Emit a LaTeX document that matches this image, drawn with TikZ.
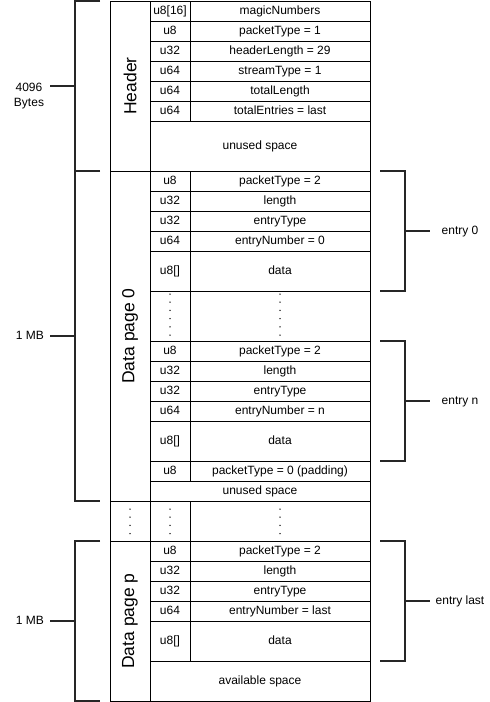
\documentclass[tikz,border=0pt]{standalone}
\usepackage{fontspec}
\setmainfont{Liberation Sans}
\usepackage{tikz}
\usetikzlibrary{positioning,calc}

\tikzset{
    txt/.style={font=\fontsize{12}{14.5}\selectfont, inner sep=1pt, text height=0.72em, text depth=0pt},
    pagelbl/.style={font=\fontsize{17.5}{20}\selectfont, rotate=90, inner sep=1pt},
    brace/.style={line width=1.5pt, black!85},
    dots/.style={line width=1.5pt, line cap=round, dash pattern=on 0pt off 8.2pt},
    grid/.style={line width=0.8pt}
}

\begin{document}
\begin{tikzpicture}[x=1pt,y=-1pt]
        \useasboundingbox (0,0) rectangle (490,702);

        % Header block (4096 Bytes)
        \draw[grid] (110,1) rectangle (370,171);
        \draw[grid] (150,1) -- (150,171);
        \draw[grid] (190,1) -- (190,121);
        \draw[grid] (150,21) -- (370,21) (150,41) -- (370,41) (150,61) -- (370,61)
                    (150,81) -- (370,81) (150,101) -- (370,101) (150,121) -- (370,121);
        \node[pagelbl] (hdr) at (130,86) {Header};
        \node[txt] (hdr-t1) at (170,11) {u8[16]};
        \node[txt] (hdr-f1) at (280,11) {magicNumbers};
        \node[txt] (hdr-t2) at (170,31) {u8};
        \node[txt] (hdr-f2) at (280,31) {packetType = 1};
        \node[txt] (hdr-t3) at (170,51) {u32};
        \node[txt] (hdr-f3) at (280,51) {headerLength = 29};
        \node[txt] (hdr-t4) at (170,71) {u64};
        \node[txt] (hdr-f4) at (280,71) {streamType = 1};
        \node[txt] (hdr-t5) at (170,91) {u64};
        \node[txt] (hdr-f5) at (280,91) {totalLength};
        \node[txt] (hdr-t6) at (170,111) {u64};
        \node[txt] (hdr-f6) at (280,111) {totalEntries = last};
        \node[txt] (hdr-free) at (260,146) {unused space};

        % Data page 0 (1 MB)
        \draw[grid] (110,171) rectangle (370,501);
        \draw[grid] (150,171) -- (150,501);
        \draw[grid] (190,171) -- (190,481);
        \draw[grid] (150,191) -- (370,191) (150,211) -- (370,211) (150,231) -- (370,231)
                    (150,251) -- (370,251) (150,291) -- (370,291) (150,341) -- (370,341)
                    (150,361) -- (370,361) (150,381) -- (370,381) (150,401) -- (370,401)
                    (150,421) -- (370,421) (150,461) -- (370,461) (150,481) -- (370,481);
        \node[pagelbl] (pg0) at (130,336) {Data page 0};
        % entry 0
        \node[txt] (e0-t1) at (170,181) {u8};
        \node[txt] (e0-f1) at (280,181) {packetType = 2};
        \node[txt] (e0-t2) at (170,201) {u32};
        \node[txt] (e0-f2) at (280,201) {length};
        \node[txt] (e0-t3) at (170,221) {u32};
        \node[txt] (e0-f3) at (280,221) {entryType};
        \node[txt] (e0-t4) at (170,241) {u64};
        \node[txt] (e0-f4) at (280,241) {entryNumber = 0};
        \node[txt] (e0-t5) at (170,271) {u8[]};
        \node[txt] (e0-f5) at (280,271) {data};
        % skipped entries
        \draw[dots] (170,294) -- (170,341);
        \draw[dots] (280,294) -- (280,341);
        % entry n
        \node[txt] (en-t1) at (170,351) {u8};
        \node[txt] (en-f1) at (280,351) {packetType = 2};
        \node[txt] (en-t2) at (170,371) {u32};
        \node[txt] (en-f2) at (280,371) {length};
        \node[txt] (en-t3) at (170,391) {u32};
        \node[txt] (en-f3) at (280,391) {entryType};
        \node[txt] (en-t4) at (170,411) {u64};
        \node[txt] (en-f4) at (280,411) {entryNumber = n};
        \node[txt] (en-t5) at (170,441) {u8[]};
        \node[txt] (en-f5) at (280,441) {data};
        \node[txt] (pad-t) at (170,471) {u8};
        \node[txt] (pad-f) at (280,471) {packetType = 0 (padding)};
        \node[txt] (pg0-free) at (260,491) {unused space};

        % Skipped pages
        \draw[grid] (110,501) rectangle (370,541);
        \draw[grid] (150,501) -- (150,541);
        \draw[grid] (190,501) -- (190,541);
        \draw[dots] (130,509) -- (130,541);
        \draw[dots] (170,509) -- (170,541);
        \draw[dots] (280,509) -- (280,541);

        % Data page p (1 MB)
        \draw[grid] (110,541) rectangle (370,701);
        \draw[grid] (150,541) -- (150,701);
        \draw[grid] (190,541) -- (190,661);
        \draw[grid] (150,561) -- (370,561) (150,581) -- (370,581) (150,601) -- (370,601)
                    (150,621) -- (370,621) (150,661) -- (370,661);
        \node[pagelbl] (pgp) at (130,621) {Data page p};
        \node[txt] (el-t1) at (170,551) {u8};
        \node[txt] (el-f1) at (280,551) {packetType = 2};
        \node[txt] (el-t2) at (170,571) {u32};
        \node[txt] (el-f2) at (280,571) {length};
        \node[txt] (el-t3) at (170,591) {u32};
        \node[txt] (el-f3) at (280,591) {entryType};
        \node[txt] (el-t4) at (170,611) {u64};
        \node[txt] (el-f4) at (280,611) {entryNumber = last};
        \node[txt] (el-t5) at (170,641) {u8[]};
        \node[txt] (el-f5) at (280,641) {data};
        \node[txt] (pgp-free) at (260,681) {available space};

        % Left brackets (sizes)
        \draw[brace] (100,1) -- (75,1) -- (75,171) -- (100,171);
        \draw[brace] (75,86) -- (50,86);
        \node[txt, align=center, text height=, text depth=] (sz-hdr) at (29,96) {4096\\Bytes};
        \draw[brace] (100,171) -- (75,171) -- (75,501) -- (100,501);
        \draw[brace] (75,336) -- (50,336);
        \node[txt] (sz-pg0) at (30,336) {1 MB};
        \draw[brace] (100,541) -- (75,541) -- (75,701) -- (100,701);
        \draw[brace] (75,621) -- (50,621);
        \node[txt] (sz-pgp) at (30,621) {1 MB};

        % Right brackets (entries)
        \draw[brace] (380,171) -- (405,171) -- (405,291) -- (380,291);
        \draw[brace] (405,231) -- (430,231);
        \node[txt] (lbl-e0) at (460,231) {entry 0};
        \draw[brace] (380,341) -- (405,341) -- (405,461) -- (380,461);
        \draw[brace] (405,401) -- (430,401);
        \node[txt] (lbl-en) at (460,401) {entry n};
        \draw[brace] (380,541) -- (405,541) -- (405,661) -- (380,661);
        \draw[brace] (405,601) -- (430,601);
        \node[txt] (lbl-el) at (460,601) {entry last};
    \end{tikzpicture}
\end{document}
